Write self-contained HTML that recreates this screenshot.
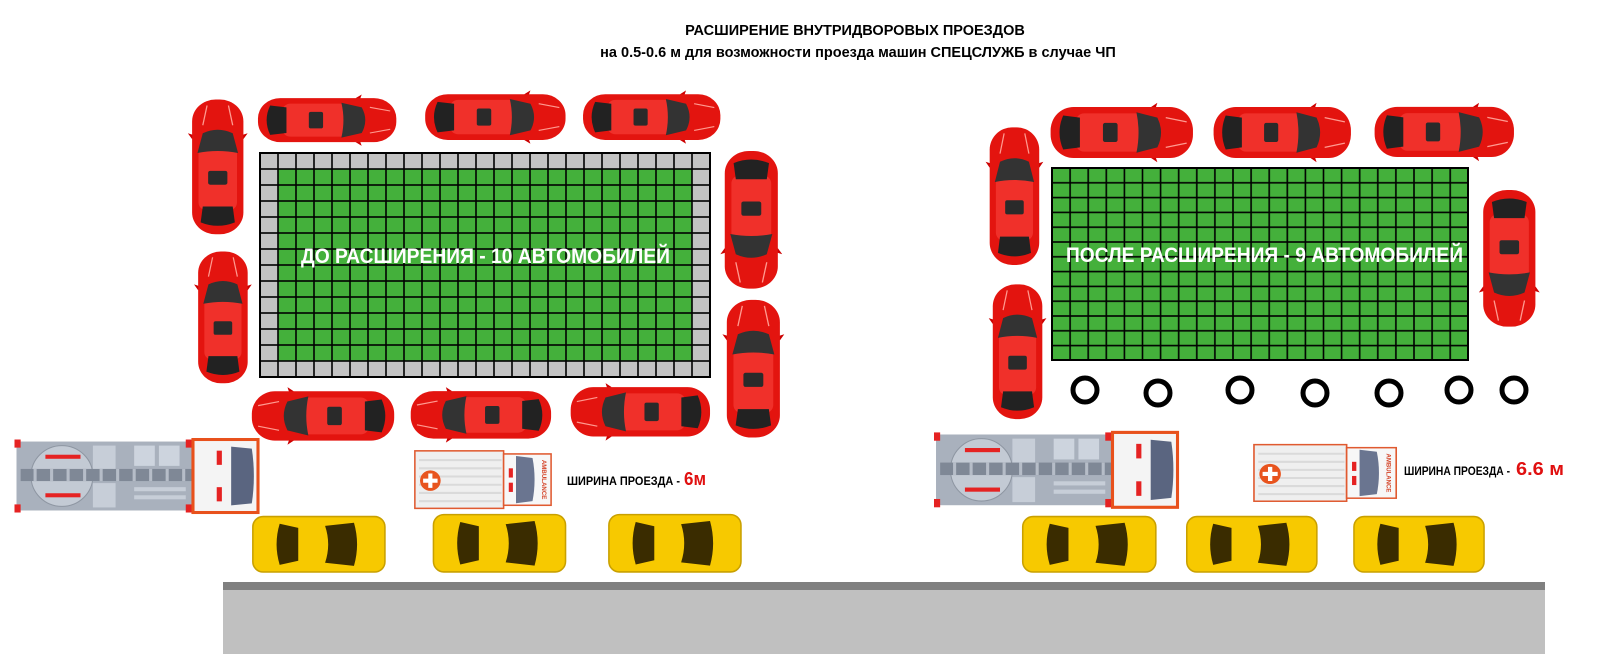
<!DOCTYPE html>
<html><head><meta charset="utf-8">
<style>
html,body{margin:0;padding:0;background:#fff;}
svg{display:block;}
text{font-family:"Liberation Sans","DejaVu Sans",sans-serif;font-weight:bold;}
</style></head>
<body>
<svg width="1610" height="671" viewBox="0 0 1610 671" xmlns="http://www.w3.org/2000/svg">
<defs>
<pattern id="g1" x="260" y="153" width="18" height="16" patternUnits="userSpaceOnUse">
<rect width="18" height="16" fill="#44b03b" stroke="#000" stroke-width="1.6"/>
</pattern>
<pattern id="g2" x="1052" y="168" width="18.1" height="14.8" patternUnits="userSpaceOnUse">
<rect width="18.1" height="14.8" fill="#44b03b" stroke="#000" stroke-width="1.6"/>
</pattern>
<pattern id="gg" x="260" y="153" width="18" height="16" patternUnits="userSpaceOnUse">
<rect width="18" height="16" fill="#c3c3c3" stroke="#000" stroke-width="1.6"/>
</pattern>
<symbol id="red" viewBox="0 0 140 56" preserveAspectRatio="none">
<path d="M98,4 L104,0 L102,6 Z M98,52 L104,56 L102,50 Z" fill="#c00"/>
<rect x="2" y="4" width="136" height="48" rx="22" fill="#e3140f"/>
<rect x="26" y="10" width="66" height="36" rx="8" fill="#f0302a"/>
<path d="M14,12 Q7,28 14,44 L30,42 L30,14 Z" fill="#222"/>
<rect x="52" y="19" width="14" height="18" rx="2" fill="#2a2a2a"/>
<path d="M84,9 L104,14 Q111,28 104,42 L84,47 Q88,28 84,9 Z" fill="#333"/>
<path d="M112,14 L132,18 M112,42 L132,38" stroke="#ff9a90" stroke-width="1.2"/>
</symbol>
<symbol id="redv" viewBox="0 0 56 140" preserveAspectRatio="none">
<g transform="translate(0,140) rotate(-90)">
<path d="M98,4 L104,0 L102,6 Z M98,52 L104,56 L102,50 Z" fill="#c00"/>
<rect x="2" y="4" width="136" height="48" rx="22" fill="#e3140f"/>
<rect x="26" y="10" width="66" height="36" rx="8" fill="#f0302a"/>
<path d="M14,12 Q7,28 14,44 L30,42 L30,14 Z" fill="#222"/>
<rect x="52" y="19" width="14" height="18" rx="2" fill="#2a2a2a"/>
<path d="M84,9 L104,14 Q111,28 104,42 L84,47 Q88,28 84,9 Z" fill="#333"/>
<path d="M112,14 L132,18 M112,42 L132,38" stroke="#ff9a90" stroke-width="1.2"/>
</g>
</symbol>
<symbol id="yel" viewBox="0 0 132 60" preserveAspectRatio="none">
<rect x="2" y="3" width="128" height="54" rx="10" fill="#f7c900" stroke="#c9a000" stroke-width="1.5"/>
<path d="M28,10 L46,14 L46,46 L28,50 Q22,30 28,10 Z" fill="#3a2c00"/>
<path d="M72,12 L100,9 Q106,30 100,51 L72,48 Q78,30 72,12 Z" fill="#3a2c00"/>
</symbol>
<symbol id="fire" viewBox="0 0 240 78" preserveAspectRatio="none">
<rect x="2" y="5" width="170" height="68" fill="#a9b1bd"/>
<circle cx="46" cy="39" r="30" fill="#c3cad4" stroke="#8e96a2"/>
<rect x="30" y="18" width="34" height="4" fill="#e52222"/><rect x="30" y="56" width="34" height="4" fill="#e52222"/>
<rect x="76" y="9" width="22" height="24" fill="#c7ced8"/><rect x="76" y="46" width="22" height="24" fill="#c7ced8"/>
<rect x="116" y="9" width="20" height="20" fill="#cdd4de"/><rect x="140" y="9" width="20" height="20" fill="#cdd4de"/>
<rect x="116" y="50" width="50" height="4" fill="#c7ced8"/><rect x="116" y="58" width="50" height="4" fill="#c7ced8"/>
<rect x="6" y="32" width="190" height="12" fill="#7f8896"/>
<path d="M20,32v12M36,32v12M52,32v12M68,32v12M84,32v12M100,32v12M116,32v12M132,32v12M148,32v12M164,32v12" stroke="#b6bdc8" stroke-width="3"/>
<rect x="0" y="3" width="6" height="8" fill="#e52222"/><rect x="0" y="67" width="6" height="8" fill="#e52222"/>
<rect x="166" y="3" width="6" height="8" fill="#e52222"/><rect x="166" y="67" width="6" height="8" fill="#e52222"/>
<rect x="173" y="3" width="63" height="72" fill="#f4f4f4" stroke="#e8511c" stroke-width="3"/>
<rect x="196" y="14" width="5" height="14" fill="#e52222"/><rect x="196" y="50" width="5" height="14" fill="#e52222"/>
<path d="M210,10 L230,12 Q234,39 230,66 L210,68 Z" fill="#5a6580"/>
</symbol>
<symbol id="amb" viewBox="0 0 136 62" preserveAspectRatio="none">
<rect x="2" y="3" width="86" height="56" fill="#efefef" stroke="#e05a30" stroke-width="1.5"/>
<path d="M6,12H86M6,20H86M6,28H86M6,36H86M6,44H86M6,52H86" stroke="#dadada" stroke-width="2"/>
<circle cx="17" cy="32" r="10" fill="#e8541e"/>
<path d="M17,25v14M10,32h14" stroke="#fff" stroke-width="4"/>
<rect x="88" y="6" width="46" height="50" fill="#f7f7f7" stroke="#e05a30" stroke-width="1.5"/>
<rect x="93" y="20" width="4" height="9" fill="#e52222"/><rect x="93" y="34" width="4" height="9" fill="#e52222"/>
<path d="M100,8 L116,10 Q120,31 116,52 L100,54 Z" fill="#6a7590"/>
<text x="0" y="0" transform="translate(125,31) rotate(90)" font-size="6" fill="#d4452a" text-anchor="middle">AMBULANCE</text>
</symbol>
</defs>

<text x="855" y="35" font-size="14.5" text-anchor="middle" fill="#000">РАСШИРЕНИЕ ВНУТРИДВОРОВЫХ ПРОЕЗДОВ</text>
<text x="858" y="57" font-size="14.5" text-anchor="middle" fill="#000">на 0.5-0.6 м для возможности проезда машин СПЕЦСЛУЖБ в случае ЧП</text>

<rect x="260" y="153" width="450" height="224" fill="url(#gg)"/>
<rect x="278" y="169" width="414" height="192" fill="url(#g1)"/>
<rect x="260" y="153" width="450" height="224" fill="none" stroke="#000" stroke-width="2"/>
<rect x="1052" y="168" width="416" height="192" fill="url(#g2)"/>
<rect x="1052" y="168" width="416" height="192" fill="none" stroke="#000" stroke-width="2"/>
<text x="301" y="263" font-size="21" textLength="369" lengthAdjust="spacingAndGlyphs" fill="#fff">ДО РАСШИРЕНИЯ - 10 АВТОМОБИЛЕЙ</text>
<text x="1066" y="262" font-size="21" textLength="397" lengthAdjust="spacingAndGlyphs" fill="#fff">ПОСЛЕ РАСШИРЕНИЯ - 9 АВТОМОБИЛЕЙ</text>

<rect x="223" y="582" width="1322" height="8" fill="#808080"/>
<rect x="223" y="590" width="1322" height="64" fill="#c0c0c0"/>

<g fill="none" stroke="#000" stroke-width="5">
<ellipse cx="1085" cy="390" rx="12" ry="12"/>
<ellipse cx="1158" cy="393" rx="12" ry="12"/>
<ellipse cx="1240" cy="390" rx="12" ry="12"/>
<ellipse cx="1315" cy="393" rx="12" ry="12"/>
<ellipse cx="1389" cy="393" rx="12" ry="12"/>
<ellipse cx="1459" cy="390" rx="12" ry="12"/>
<ellipse cx="1514" cy="390" rx="12" ry="12"/>
</g>

<g transform="scale(1.032,1.027)">
<use href="#red" x="248" y="92" width="138" height="50"/>
<use href="#red" x="410" y="88" width="140" height="52"/>
<use href="#red" x="563" y="88" width="137" height="52"/>
<use href="#redv" x="182" y="95" width="58" height="135"/>
<use href="#redv" x="188" y="243" width="56" height="132"/>
<g transform="translate(698,283) scale(1,-1)"><use href="#redv" x="0" y="0" width="60" height="138"/></g>
<use href="#redv" x="700" y="290" width="60" height="138"/>
<g transform="translate(384,377) scale(-1,1)"><use href="#red" x="0" y="0" width="142" height="56"/></g>
<g transform="translate(536,377) scale(-1,1)"><use href="#red" x="0" y="0" width="140" height="54"/></g>
<g transform="translate(690,373) scale(-1,1)"><use href="#red" x="0" y="0" width="139" height="56"/></g>
<use href="#redv" x="955" y="122" width="56" height="138"/>
<use href="#redv" x="958" y="275" width="56" height="135"/>
<use href="#red" x="1016" y="100" width="142" height="58"/>
<use href="#red" x="1174" y="100" width="137" height="58"/>
<use href="#red" x="1330" y="100" width="139" height="57"/>
<g transform="translate(1433,320) scale(1,-1)"><use href="#redv" x="0" y="0" width="59" height="137"/></g>
<use href="#fire" x="14" y="425" width="240" height="77"/>
<use href="#fire" x="905" y="418" width="240" height="79"/>
<use href="#amb" x="400" y="436" width="136" height="62"/>
<use href="#amb" x="1213" y="430" width="142" height="61"/>
<use href="#yel" x="243" y="500" width="132" height="60"/>
<use href="#yel" x="418" y="498" width="132" height="62"/>
<use href="#yel" x="588" y="498" width="132" height="62"/>
<use href="#yel" x="989" y="500" width="133" height="60"/>
<use href="#yel" x="1148" y="500" width="130" height="60"/>
<use href="#yel" x="1310" y="500" width="130" height="60"/>
</g>

<text x="567" y="485" font-size="12" textLength="113" lengthAdjust="spacingAndGlyphs" fill="#000">ШИРИНА ПРОЕЗДА -</text>
<text x="684" y="485" font-size="18" textLength="22" lengthAdjust="spacingAndGlyphs" fill="#e01010">6м</text>
<text x="1404" y="475" font-size="12" textLength="106" lengthAdjust="spacingAndGlyphs" fill="#000">ШИРИНА ПРОЕЗДА -</text>
<text x="1516" y="475" font-size="18" textLength="48" lengthAdjust="spacingAndGlyphs" fill="#e01010">6.6 м</text>
</svg>
</body></html>
